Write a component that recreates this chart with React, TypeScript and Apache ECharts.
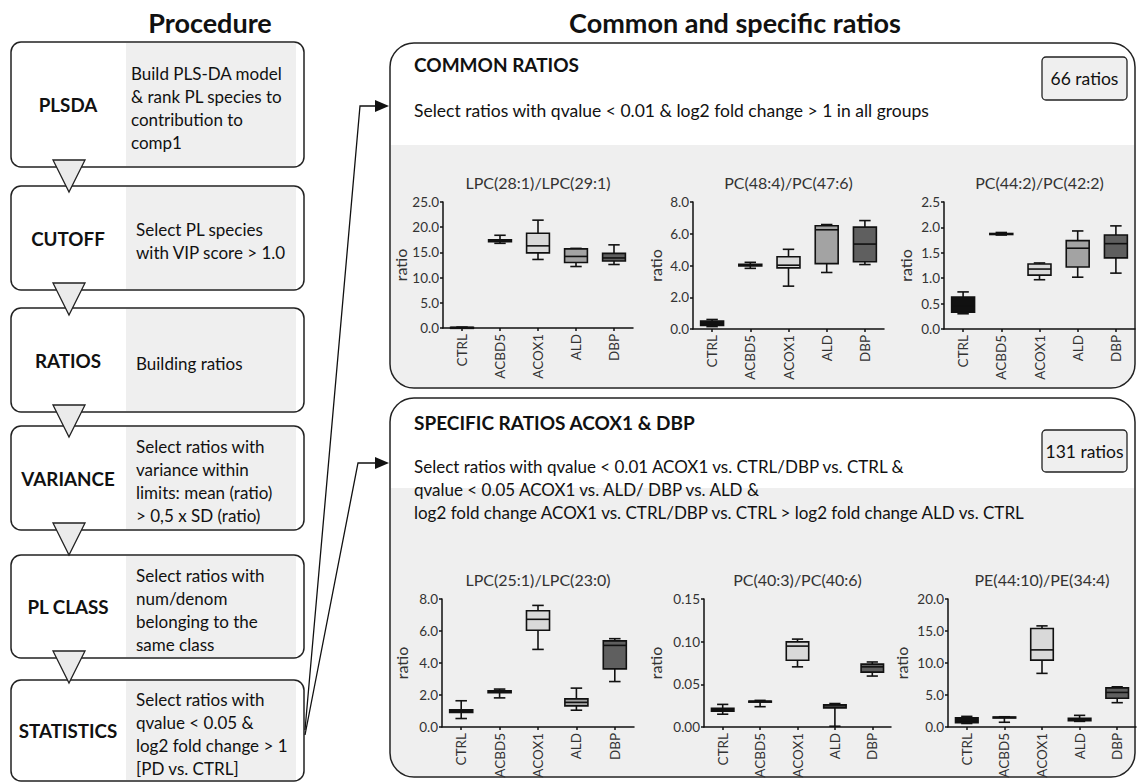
import React, { useEffect, useRef } from 'react';
import * as echarts from 'echarts';

const FONT = 'Lato, "Noto Sans", sans-serif';

const groups = ['CTRL', 'ACBD5', 'ACOX1', 'ALD', 'DBP'];
const groupColors = ['#111111', '#3a3a3a', '#d9d9d9', '#a3a3a3', '#5f5f5f'];

// each group: [min, q1, median, q3, max]
const lpc28_29 = [[0.05, 0.08, 0.1, 0.13, 0.18], [16.8, 17.1, 17.3, 17.5, 18.4], [13.6, 14.9, 16.3, 18.8, 21.4], [12.2, 13.0, 14.2, 15.7, 15.8], [12.6, 13.3, 13.9, 14.8, 16.5]];
const pc48_47 = [[0.15, 0.22, 0.35, 0.5, 0.6], [3.82, 3.97, 4.02, 4.08, 4.2], [2.7, 3.85, 4.02, 4.55, 5.02], [3.56, 4.12, 6.25, 6.5, 6.58], [4.06, 4.24, 5.35, 6.42, 6.83]];
const pc44_42 = [[0.3, 0.33, 0.45, 0.63, 0.73], [1.85, 1.86, 1.87, 1.88, 1.9], [0.97, 1.06, 1.18, 1.28, 1.3], [1.02, 1.22, 1.59, 1.74, 1.93], [1.1, 1.4, 1.68, 1.85, 2.03]];
const lpc25_23 = [[0.53, 0.91, 1.0, 1.08, 1.64], [1.82, 2.14, 2.2, 2.26, 2.37], [4.85, 6.05, 6.73, 7.27, 7.6], [1.05, 1.32, 1.54, 1.76, 2.43], [2.84, 3.63, 5.1, 5.38, 5.52]];
const pc40_40 = [[0.015, 0.0185, 0.021, 0.0218, 0.0265], [0.0238, 0.0293, 0.03, 0.0303, 0.0312], [0.0705, 0.0783, 0.0948, 0.0998, 0.103], [0.0009, 0.0224, 0.0247, 0.026, 0.0275], [0.0597, 0.0643, 0.0705, 0.0737, 0.0762]];
const pe44_34 = [[0.55, 0.68, 1.0, 1.45, 1.66], [0.74, 1.45, 1.5, 1.56, 1.6], [8.38, 10.45, 12.05, 15.4, 15.8], [0.88, 0.99, 1.15, 1.35, 1.82], [3.8, 4.5, 5.4, 6.12, 6.28]];

const chartTitles = ['LPC(28:1)/LPC(29:1)', 'PC(48:4)/PC(47:6)', 'PC(44:2)/PC(42:2)', 'LPC(25:1)/LPC(23:0)', 'PC(40:3)/PC(40:6)', 'PE(44:10)/PE(34:4)'];
const chartData = [lpc28_29, pc48_47, pc44_42, lpc25_23, pc40_40, pe44_34];
const yMaxes = [25, 8, 2.5, 8, 0.15, 20];
const yIntervals = [5, 2, 0.5, 2, 0.05, 5];
const yDecimals = [1, 1, 1, 1, 2, 1];
const yAxisName = 'ratio';

const stepLabels = ['PLSDA', 'CUTOFF', 'RATIOS', 'VARIANCE', 'PL CLASS', 'STATISTICS'];
const stepTexts = [
  ['Build PLS-DA model', '& rank PL species to', 'contribution to', 'comp1'],
  ['Select PL species', 'with VIP score > 1.0'],
  ['Building ratios'],
  ['Select ratios with', 'variance within', 'limits: mean (ratio)', '> 0,5 x SD (ratio)'],
  ['Select ratios with', 'num/denom', 'belonging to the', 'same class'],
  ['Select ratios with', 'qvalue < 0.05 &', 'log2 fold change > 1', '[PD vs. CTRL]'],
];

const leftTitle = 'Procedure';
const rightTitle = 'Common and specific ratios';
const commonHeading = 'COMMON RATIOS';
const commonTexts = ['Select ratios with qvalue < 0.01 & log2 fold change > 1 in all groups'];
const commonCount = '66 ratios';
const specificHeading = 'SPECIFIC RATIOS ACOX1 & DBP';
const specificTexts = [
  'Select ratios with qvalue < 0.01 ACOX1 vs. CTRL/DBP vs. CTRL &',
  'qvalue < 0.05 ACOX1 vs. ALD/ DBP vs. ALD &',
  'log2 fold change ACOX1 vs. CTRL/DBP vs. CTRL > log2 fold change ALD vs. CTRL',
];
const specificCount = '131 ratios';

// layout
const gridBoxes = [
  { left: 443, top: 202, width: 190, height: 126, nameGap: 34 },
  { left: 693, top: 202, width: 191, height: 127, nameGap: 30 },
  { left: 944, top: 202, width: 191, height: 127, nameGap: 31 },
  { left: 442, top: 599, width: 192, height: 128, nameGap: 33 },
  { left: 704, top: 599, width: 187, height: 128, nameGap: 41 },
  { left: 948, top: 599, width: 188, height: 128, nameGap: 39 },
];
const stepTops = [42, 186, 308, 426, 555, 680];
const stepBottoms = [167, 290, 412, 530, 658, 781];

function txt(x: number, y: number, text: string, size: number, opts: any = {}) {
  return {
    type: 'text', x, y, z: 20,
    style: {
      text, fontSize: size, fontFamily: FONT, fill: opts.fill || '#111',
      fontWeight: opts.bold ? 'bold' : 'normal',
      textAlign: opts.align || 'left', align: opts.align || 'left',
      textVerticalAlign: 'middle', verticalAlign: 'middle',
    },
  };
}

function buildOption() {
  const graphic: any[] = [];
  // titles
  graphic.push(txt(210, 22, leftTitle, 27, { bold: true, align: 'center' }));
  graphic.push(txt(735, 22, rightTitle, 27, { bold: true, align: 'center' }));

  // left procedure
  stepLabels.forEach((lab, i) => {
    const t = stepTops[i], b = stepBottoms[i];
    graphic.push({ type: 'rect', z: 2, shape: { x: 126, y: t + 1, width: 170, height: b - t - 2 }, style: { fill: '#efefef' } });
    graphic.push({ type: 'rect', z: 5, shape: { x: 11, y: t, width: 293, height: b - t, r: 10 }, style: { fill: 'none', stroke: '#222', lineWidth: 1.5 } });
    const cy = (t + b) / 2;
    graphic.push(txt(68, cy, lab, 18.8, { bold: true, align: 'center' }));
    const lines = stepTexts[i];
    const x0 = i === 0 ? 131 : 136;
    lines.forEach((ln, k) => {
      graphic.push(txt(x0, cy + 3 + (k - (lines.length - 1) / 2) * 23, ln, 17));
    });
  });
  for (let i = 0; i < 5; i++) {
    const y0 = stepBottoms[i] - 7;
    graphic.push({ type: 'polygon', z: 8, shape: { points: [[53, y0], [85, y0], [69, y0 + 32]] }, style: { fill: '#ebebeb', stroke: '#222', lineWidth: 1.3 } });
  }

  // arrows
  graphic.push({ type: 'polyline', z: 8, shape: { points: [[305, 730], [360, 106], [377, 106]] }, style: { stroke: '#111', lineWidth: 1.3, fill: 'none' } });
  graphic.push({ type: 'polygon', z: 8, shape: { points: [[375, 100], [389, 106], [375, 112]] }, style: { fill: '#111' } });
  graphic.push({ type: 'polyline', z: 8, shape: { points: [[305, 735], [358, 463], [377, 463]] }, style: { stroke: '#111', lineWidth: 1.3, fill: 'none' } });
  graphic.push({ type: 'polygon', z: 8, shape: { points: [[375, 457], [389, 463], [375, 469]] }, style: { fill: '#111' } });

  // right panels
  const panels = [
    { y: 43, h: 345, grayTop: 145, heading: commonHeading, hy: 64, texts: commonTexts, ty: 110, tsize: 17.5, count: commonCount, cy: 57, ch: 43 },
    { y: 398, h: 379, grayTop: 488, heading: specificHeading, hy: 422, texts: specificTexts, ty: 466, tsize: 17, count: specificCount, cy: 430, ch: 42 },
  ];
  panels.forEach((p) => {
    graphic.push({ type: 'rect', z: 1, shape: { x: 391, y: p.grayTop, width: 743, height: p.y + p.h - p.grayTop - 1, r: [0, 0, 22, 22] }, style: { fill: '#efefef' } });
    graphic.push({ type: 'rect', z: 5, shape: { x: 390, y: p.y, width: 745, height: p.h, r: 24 }, style: { fill: 'none', stroke: '#222', lineWidth: 1.5 } });
    graphic.push(txt(414, p.hy, p.heading, 19, { bold: true }));
    p.texts.forEach((t, k) => graphic.push(txt(414, p.ty + k * 23, t, p.tsize)));
    graphic.push({ type: 'rect', z: 5, shape: { x: 1042, y: p.cy, width: 85, height: p.ch, r: 4 }, style: { fill: '#efefef', stroke: '#222', lineWidth: 1.3 } });
    graphic.push(txt(1084.5, p.cy + p.ch / 2, p.count, 17.5, { align: 'center' }));
  });

  // chart titles
  gridBoxes.forEach((g, i) => {
    graphic.push(txt(g.left + g.width / 2, g.top - 20, chartTitles[i], 16, { align: 'center', fill: '#333' }));
  });

  const axisLineStyle = { color: '#111', width: 1.5 };
  const option: any = {
    animation: false,
    textStyle: { fontFamily: FONT },
    graphic: { elements: graphic },
    grid: gridBoxes.map((g) => ({ left: g.left, top: g.top, width: g.width, height: g.height })),
    xAxis: gridBoxes.map((g, i) => ({
      type: 'category', gridIndex: i, data: groups, z: 6,
      axisLine: { lineStyle: axisLineStyle },
      axisTick: { show: true, alignWithLabel: true, length: 3, lineStyle: axisLineStyle },
      axisLabel: { rotate: 90, fontSize: 13.5, color: '#333', margin: 6, interval: 0, fontFamily: FONT },
      splitLine: { show: false },
    })),
    yAxis: gridBoxes.map((g, i) => ({
      type: 'value', gridIndex: i, min: 0, max: yMaxes[i], interval: yIntervals[i], z: 6,
      name: yAxisName, nameLocation: 'middle', nameGap: g.nameGap,
      nameTextStyle: { fontSize: 16, color: '#333', fontFamily: FONT },
      axisLine: { show: true, lineStyle: axisLineStyle },
      axisTick: { show: true, length: 3, lineStyle: axisLineStyle },
      axisLabel: { fontSize: 13.5, color: '#333', margin: 4, fontFamily: FONT, formatter: (v: number) => v.toFixed(yDecimals[i]) },
      splitLine: { show: false },
    })),
    series: chartData.map((vals, i) => ({
      type: 'custom', xAxisIndex: i, yAxisIndex: i, z: 7,
      data: vals.map((v, k) => [k, ...v]),
      encode: { x: 0, y: [1, 2, 3, 4, 5] },
      renderItem: (params: any, api: any) => {
        const idx = api.value(0);
        const [cx, yMin] = api.coord([idx, api.value(1)]);
        const yQ1 = api.coord([idx, api.value(2)])[1];
        const yMed = api.coord([idx, api.value(3)])[1];
        const yQ3 = api.coord([idx, api.value(4)])[1];
        const yMax = api.coord([idx, api.value(5)])[1];
        const bw = api.size([1, 0])[0] * 0.6;
        const cw = bw * 0.5;
        const st = { stroke: '#111', lineWidth: 1.6 };
        return {
          type: 'group',
          children: [
            { type: 'line', shape: { x1: cx, y1: yMax, x2: cx, y2: yQ3 }, style: st },
            { type: 'line', shape: { x1: cx, y1: yQ1, x2: cx, y2: yMin }, style: st },
            { type: 'line', shape: { x1: cx - cw / 2, y1: yMax, x2: cx + cw / 2, y2: yMax }, style: st },
            { type: 'line', shape: { x1: cx - cw / 2, y1: yMin, x2: cx + cw / 2, y2: yMin }, style: st },
            { type: 'rect', shape: { x: cx - bw / 2, y: yQ3, width: bw, height: Math.max(yQ1 - yQ3, 1) }, style: { fill: groupColors[params.dataIndex], stroke: '#111', lineWidth: 1.6 } },
            { type: 'line', shape: { x1: cx - bw / 2, y1: yMed, x2: cx + bw / 2, y2: yMed }, style: st },
          ],
        };
      },
    })),
  };
  return option;
}

export default function App() {
  const ref = useRef<HTMLDivElement>(null);
  useEffect(() => {
    if (!ref.current) return;
    const chart = echarts.init(ref.current, undefined, { renderer: 'svg' });
    chart.setOption(buildOption());
    return () => chart.dispose();
  }, []);
  return (
    <div ref={ref} style={{ position: 'fixed', left: 0, top: 0, width: 1138, height: 783, background: '#fff' }} />
  );
}
